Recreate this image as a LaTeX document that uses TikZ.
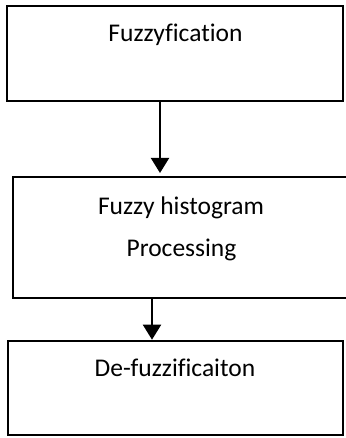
\documentclass[tikz,border=0pt]{standalone}
\usepackage{fontspec}
\setmainfont{Carlito}[Ligatures=NoCommon]
\usetikzlibrary{arrows.meta}
\begin{document}
\begin{tikzpicture}[x=1pt,y=-1pt,
		box/.style={draw,line width=2.6pt,rectangle,inner sep=0pt},
		lbl/.style={anchor=base,inner sep=0pt,font=\fontsize{25.5}{30}\selectfont},
		arr/.style={line width=2pt,-{Triangle[width=18pt,length=15pt]}}]
			\useasboundingbox (0,0) rectangle (345,438);
			
			% the three stages
			\node [box,minimum width=336pt,minimum height=95pt] (fuzz) at (175,53.5) {};
			\node [box,minimum width=336pt,minimum height=121pt] (hist) at (181,237.5) {};
			\node [box,minimum width=335pt,minimum height=94pt] (defuzz) at (175.5,388) {};
			
			\node [lbl] (fuzzlbl) at (175.5,41.5) {Fuzzyfication};
			\node [lbl] (histlbl) at (181,214) {Fuzzy histogram};
			\node [lbl] (proclbl) at (181.5,256) {Processing};
			\node [lbl] (defuzzlbl) at (175,376) {De-fuzzificaiton};
			
			% connectors
			\coordinate (tip1) at (160,173);
			\coordinate (tip2) at (152,341);
			\draw [arr] (tip1 |- fuzz.south) -- (tip1);
			\draw [arr] (tip2 |- hist.south) -- (tip2 |- defuzz.north);
		\end{tikzpicture}
\end{document}
